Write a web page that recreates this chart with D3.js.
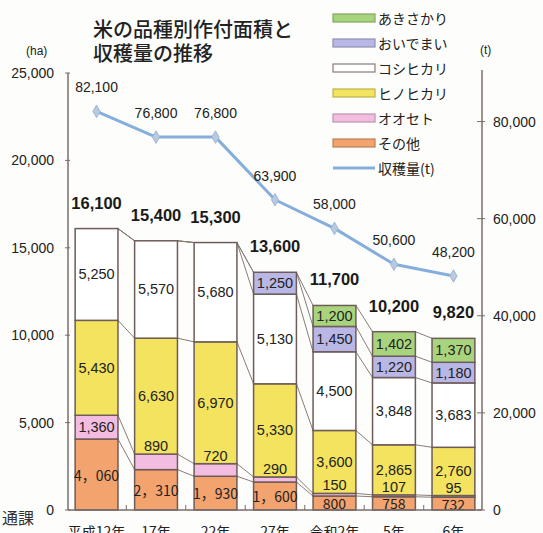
<!DOCTYPE html>
<html><head><meta charset="utf-8">
<script src="https://cdn.jsdelivr.net/npm/d3@7"></script>
<style>
body{margin:0;background:#fdfdfb;}
svg{display:block;}
</style></head>
<body>
<svg id="c" width="543" height="533"></svg>
<script>
const years = ["平成12年","17年","22年","27年","令和2年","5年","6年"];
const sonota   = [4060,2310,1930,1600,800,758,732];
const oose     = [1360,890,720,290,150,107,95];
const hinohikari=[5430,6630,6970,5330,3600,2865,2760];
const koshihikari=[5250,5570,5680,5130,4500,3848,3683];
const oidemai  = [0,0,0,1250,1450,1220,1180];
const akisakari= [0,0,0,0,1200,1402,1370];
const totals   = [16100,15400,15300,13600,11700,10200,9820];
const harvest  = [82100,76800,76800,63900,58000,50600,48200];
const leftTicks = [0,5000,10000,15000,20000,25000];
const rightTicks = [0,20000,40000,60000,80000];

const series = [
  {name:"その他", values:sonota, color:"#f2a36e", fw:true},
  {name:"オオセト", values:oose, color:"#f2bde0", small:true},
  {name:"ヒノヒカリ", values:hinohikari, color:"#f3e35e"},
  {name:"コシヒカリ", values:koshihikari, color:"#ffffff"},
  {name:"おいでまい", values:oidemai, color:"#b9b7e6"},
  {name:"あきさかり", values:akisakari, color:"#a9d47e"}
];

const svg = d3.select("#c");
const jp = "'Noto Sans CJK JP','Noto Sans',sans-serif";
const num = "'Liberation Sans',Arial,sans-serif";
const axisCol = "#7a6c6a";
const barStroke = "#6e5c58";

const x = d3.scaleBand().domain(years).range([68,482]).paddingInner(0.28).paddingOuter(0.12);
const yL = d3.scaleLinear().domain([0,25000]).range([510,73]);
const yR = d3.scaleLinear().domain([0,90000]).range([510,73]);
const bw = x.bandwidth();

// stack
const rows = years.map((yr,i)=>{const o={year:yr}; series.forEach(s=>o[s.name]=s.values[i]); return o;});
const stack = d3.stack().keys(series.map(s=>s.name))(rows);

// series lines
const gLines = svg.append("g");
stack.forEach(layer=>{
  for(let i=0;i<years.length-1;i++){
    gLines.append("line")
      .attr("x1", x(years[i])+bw).attr("y1", yL(layer[i][1]))
      .attr("x2", x(years[i+1])).attr("y2", yL(layer[i+1][1]))
      .attr("stroke","#8a7c78").attr("stroke-width",1);
  }
});

// bars
const gBars = svg.append("g");
stack.forEach((layer,si)=>{
  const s = series[si];
  layer.forEach((d,i)=>{
    if(d[1]-d[0]<=0) return;
    gBars.append("rect")
      .attr("x", x(years[i])).attr("width", bw)
      .attr("y", yL(d[1])).attr("height", yL(d[0])-yL(d[1]))
      .attr("fill", s.color).attr("stroke", barStroke).attr("stroke-width",1.5);
  });
});

// segment labels
const gLab = svg.append("g");
stack.forEach((layer,si)=>{
  const s = series[si];
  layer.forEach((d,i)=>{
    const v = d[1]-d[0];
    if(v<=0) return;
    const cx = x(years[i])+bw/2;
    let cy = (yL(d[0])+yL(d[1]))/2;
    if(s.small && v<1000) cy = yL(d[1])-8;
    const txt = s.fw ? d3.format(",")(v).replace(",","，") : d3.format(",")(v);
    gLab.append("text").attr("x",cx).attr("y",cy)
      .attr("text-anchor","middle").attr("dominant-baseline","central")
      .attr("font-family", s.fw ? jp : num).attr("font-size", s.fw?14:14.5)
      .attr("fill","#222").text(txt);
  });
});

// totals
totals.forEach((t,i)=>{
  svg.append("text").attr("x",x(years[i])+bw/2).attr("y",yL(t)-26)
    .attr("text-anchor","middle").attr("dominant-baseline","central")
    .attr("font-family",num).attr("font-weight","bold").attr("font-size",16.5)
    .attr("fill","#1a1a1a").text(d3.format(",")(t));
});

// axes
svg.append("line").attr("x1",68).attr("x2",68).attr("y1",73).attr("y2",510).attr("stroke",axisCol).attr("stroke-width",1.5);
svg.append("line").attr("x1",482).attr("x2",482).attr("y1",70).attr("y2",510).attr("stroke",axisCol).attr("stroke-width",1.5);
svg.append("line").attr("x1",68).attr("x2",482).attr("y1",510).attr("y2",510).attr("stroke",axisCol).attr("stroke-width",1.5);
leftTicks.forEach(t=>{
  svg.append("line").attr("x1",65).attr("x2",70).attr("y1",yL(t)).attr("y2",yL(t)).attr("stroke",axisCol);
  svg.append("text").attr("x",54).attr("y",yL(t)).attr("text-anchor","end").attr("dominant-baseline","central")
    .attr("font-family",num).attr("font-size",14).attr("fill","#222").text(d3.format(",")(t));
});
rightTicks.forEach(t=>{
  svg.append("line").attr("x1",477).attr("x2",485).attr("y1",yR(t)).attr("y2",yR(t)).attr("stroke",axisCol);
  svg.append("text").attr("x",493).attr("y",yR(t)).attr("text-anchor","start").attr("dominant-baseline","central")
    .attr("font-family",num).attr("font-size",14).attr("fill","#222").text(d3.format(",")(t));
});
// category boundary ticks
for(let i=1;i<years.length;i++){
  const bx = x(years[i]) - x.step()*x.paddingInner()/2;
  svg.append("line").attr("x1",bx).attr("x2",bx).attr("y1",505).attr("y2",510).attr("stroke",axisCol);
}
years.forEach(yr=>{
  svg.append("text").attr("x",x(yr)+bw/2).attr("y",537).attr("text-anchor","middle")
    .attr("font-family",jp).attr("font-size",14).attr("fill","#222").text(yr);
});
svg.append("text").attr("x",34).attr("y",524).attr("text-anchor","end")
  .attr("font-family",jp).attr("font-size",16).attr("fill","#333").text("通課");

// units
svg.append("text").attr("x",26).attr("y",51).attr("font-family",num).attr("font-size",12).attr("fill","#222").attr("dominant-baseline","central").text("(ha)");
svg.append("text").attr("x",480).attr("y",50).attr("font-family",num).attr("font-size",12).attr("fill","#222").attr("dominant-baseline","central").text("(t)");

// harvest line
const lineGen = d3.line().x((d,i)=>x(years[i])+bw/2).y(d=>yR(d));
svg.append("path").datum(harvest).attr("d",lineGen).attr("fill","none")
  .attr("stroke","#86aedc").attr("stroke-width",3).attr("stroke-linejoin","round");
harvest.forEach((h,i)=>{
  svg.append("path").attr("d",d3.symbol(d3.symbolDiamond,45)())
    .attr("transform",`translate(${x(years[i])+bw/2},${yR(h)})`)
    .attr("fill","#b9c9de").attr("stroke","#9fb7d8").attr("stroke-width",1);
  svg.append("text").attr("x",x(years[i])+bw/2).attr("y",yR(h)-24)
    .attr("text-anchor","middle").attr("dominant-baseline","central")
    .attr("font-family",num).attr("font-size",14).attr("fill","#222").text(d3.format(",")(h));
});

// title
svg.append("text").attr("x",93).attr("y",28).attr("dominant-baseline","central")
  .attr("font-family",jp).attr("font-weight",500).attr("font-size",20).attr("fill","#222").text("米の品種別作付面積と");
svg.append("text").attr("x",93).attr("y",52).attr("dominant-baseline","central")
  .attr("font-family",jp).attr("font-weight",500).attr("font-size",20).attr("fill","#222").text("収穫量の推移");

// legend
const legendItems = series.slice().reverse().map(s=>({name:s.name,color:s.color,type:"rect"}));
legendItems.push({name:"収穫量(t)",color:"#86aedc",type:"line"});
const legendY = [18,43,68,93,118,143,168];
legendItems.forEach((it,i)=>{
  const ly = legendY[i];
  if(it.type==="rect"){
    svg.append("rect").attr("x",333).attr("y",ly-4).attr("width",42).attr("height",8)
      .attr("fill",it.color).attr("stroke", it.color==="#ffffff" ? "#8a7c78" : d3.color(it.color).darker(0.7)).attr("stroke-width",1.2);
  } else {
    svg.append("line").attr("x1",333).attr("x2",375).attr("y1",ly).attr("y2",ly)
      .attr("stroke",it.color).attr("stroke-width",3);
  }
  svg.append("text").attr("x",378).attr("y",ly).attr("dominant-baseline","central")
    .attr("font-family",jp).attr("font-size",14).attr("fill","#222").text(it.name);
});
</script>
</body></html>
